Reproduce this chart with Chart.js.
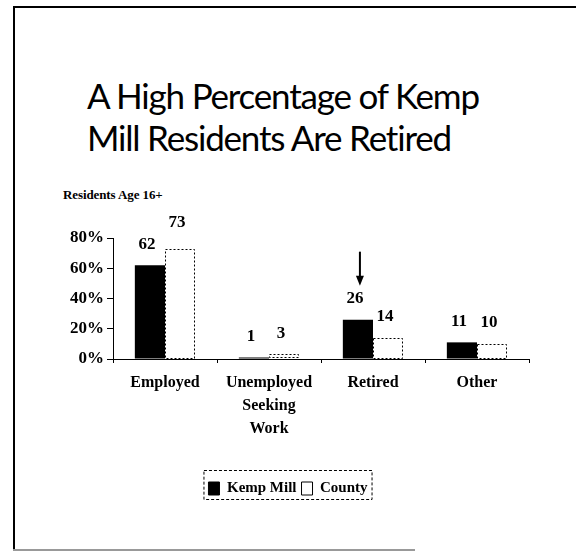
<!DOCTYPE html>
<html>
<head>
<meta charset="utf-8">
<script src="https://cdn.jsdelivr.net/npm/chart.js@4.4.0/dist/chart.umd.min.js"></script>
<style>
    body { margin: 0; background: #fff; width: 576px; height: 552px; overflow: hidden; position: relative; }
    .line { position: absolute; background: #000; }
    #title {
        position: absolute; left: 87px; top: 74px;
        font-family: Lato, sans-serif; font-size: 35px; line-height: 42px;
        letter-spacing: -1.2px; color: #000; white-space: nowrap;
    }
    #subtitle {
        position: absolute; left: 63px; top: 187px;
        font-family: "Liberation Serif", serif; font-weight: bold; font-size: 13px;
        letter-spacing: -0.1px; color: #000;
    }
    #wrap { position: absolute; left: 0; top: 200px; width: 576px; height: 352px; }
</style>
</head>
<body>
<div class="line" style="left:13px;top:6px;width:2px;height:545px;"></div>
<div class="line" style="left:13px;top:6px;width:563px;height:2px;"></div>
<div class="line" style="left:13px;top:549px;width:402px;height:2px;background:#999;"></div>
<div id="title">A High Percentage of Kemp<br>Mill Residents Are Retired</div>
<div id="subtitle">Residents Age 16+</div>
<div id="wrap"><canvas id="chart" width="576" height="352"></canvas></div>
<script>
document.addEventListener('DOMContentLoaded', function() {
    const categories = ['Employed', ['Unemployed', 'Seeking', 'Work'], 'Retired', 'Other'];
    const kempMill = [62, 1, 26, 11];
    const county = [73, 3, 14, 10];
    const yTicks = [0, 20, 40, 60, 80];

    const serif = '"Liberation Serif", "Times New Roman", serif';
    const labelFont = { family: serif, size: 16, weight: 'bold' };

    // value labels, dashed outline for county bars, arrow, legend box
    const extras = {
        id: 'extras',
        afterLayout(chart) {
            // centre the legend on the whole canvas and drop it a little
            const lg = chart.legend;
            lg.left = 0;
            lg.right = chart.width;
            lg.top += 4;
            lg.bottom += 4;
        },
        afterDatasetsDraw(chart) {
            const ctx = chart.ctx;
            ctx.save();

            const countyMeta = chart.getDatasetMeta(1);
            ctx.strokeStyle = '#000';
            ctx.lineWidth = 1;
            ctx.setLineDash([2, 2]);
            countyMeta.data.forEach(bar => {
                const p = bar.getProps(['x', 'y', 'base', 'width'], true);
                ctx.strokeRect(Math.round(p.x - p.width / 2) + 0.5, Math.round(p.y) + 0.5,
                    Math.round(p.width) - 1, Math.round(p.base - p.y) - 1);
            });
            ctx.setLineDash([]);

            ctx.fillStyle = '#000';
            ctx.font = 'bold 17px ' + serif;
            ctx.textAlign = 'center';
            ctx.textBaseline = 'middle';
            chart.data.datasets.forEach((ds, i) => {
                chart.getDatasetMeta(i).data.forEach((bar, j) => {
                    const p = bar.getProps(['x', 'y'], true);
                    const lift = ds.data[j] > 70 ? 26 : 21;
                    ctx.fillText(ds.data[j], p.x - 3, p.y - lift);
                });
            });

            // arrow over the Retired / Kemp Mill bar
            const retired = chart.getDatasetMeta(0).data[2].getProps(['x', 'y'], true);
            const ax = retired.x + 2;
            ctx.lineWidth = 2;
            ctx.beginPath();
            ctx.moveTo(ax, retired.y - 68);
            ctx.lineTo(ax, retired.y - 42);
            ctx.stroke();
            ctx.beginPath();
            ctx.moveTo(ax - 4, retired.y - 44);
            ctx.lineTo(ax + 4, retired.y - 44);
            ctx.lineTo(ax, retired.y - 34);
            ctx.closePath();
            ctx.fill();

            // dotted box round the legend
            const boxes = chart.legend.legendHitBoxes;
            if (boxes && boxes.length) {
                const left = Math.min(...boxes.map(b => b.left)) - 5;
                const right = Math.max(...boxes.map(b => b.left + b.width)) + 4;
                const top = boxes[0].top - 11;
                const bottom = boxes[0].top + boxes[0].height + 3;
                ctx.lineWidth = 1;
                ctx.setLineDash([3, 2]);
                ctx.strokeRect(left + 0.5, top + 0.5, right - left, bottom - top);
            }
            ctx.restore();
        }
    };

    new Chart(document.getElementById('chart'), {
        type: 'bar',
        data: {
            labels: categories,
            datasets: [{
                label: 'Kemp Mill',
                data: kempMill,
                backgroundColor: '#000',
                borderColor: '#000',
                borderWidth: 0,
                categoryPercentage: 0.58,
                barPercentage: 1
            }, {
                label: 'County',
                data: county,
                backgroundColor: '#fff',
                borderColor: '#000',
                borderWidth: 0,
                categoryPercentage: 0.58,
                barPercentage: 1
            }]
        },
        options: {
            responsive: false,
            animation: false,
            devicePixelRatio: 1,
            layout: { padding: { top: 38, left: 0, right: 47, bottom: 50 } },
            plugins: {
                tooltip: { enabled: false },
                legend: {
                    position: 'bottom',
                    labels: {
                        color: '#000',
                        font: { family: serif, size: 15, weight: 'bold' },
                        boxWidth: 11,
                        boxHeight: 13,
                        padding: 5,
                        generateLabels(chart) {
                            return chart.data.datasets.map((ds, i) => ({
                                text: ds.label,
                                fillStyle: i === 0 ? '#000' : '#fff',
                                strokeStyle: '#000',
                                lineWidth: 1,
                                fontColor: '#000',
                                datasetIndex: i
                            }));
                        }
                    }
                }
            },
            scales: {
                x: {
                    grid: { display: true, drawOnChartArea: false, drawTicks: true, tickLength: 4, color: '#000' },
                    border: { display: true, color: '#000', width: 1 },
                    ticks: { color: '#000', font: { ...labelFont, lineHeight: 1.45 }, padding: 8, maxRotation: 0 },
                    afterFit(scale) { scale.height = 113; }
                },
                y: {
                    min: 0,
                    max: 80,
                    afterBuildTicks(scale) { scale.ticks = yTicks.map(v => ({ value: v })); },
                    grid: { display: true, drawOnChartArea: false, drawTicks: true, tickLength: 6, color: '#000' },
                    border: { display: true, color: '#000', width: 1, dash: [4, 2] },
                    ticks: { color: '#000', font: { family: serif, size: 17, weight: 'bold' }, padding: 3,
                        callback: v => v + '%' },
                    afterFit(scale) { scale.width = 113; }
                }
            }
        },
        plugins: [extras]
    });
});
</script>
</body>
</html>
